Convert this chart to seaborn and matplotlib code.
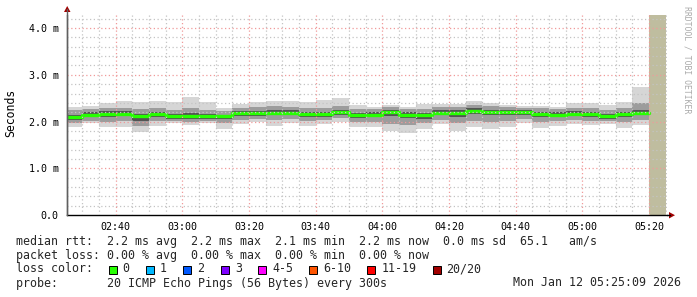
import numpy as np
import pandas as pd
import matplotlib
matplotlib.use("Agg")
import matplotlib.pyplot as plt
from matplotlib.patches import Polygon, Rectangle
from matplotlib.lines import Line2D
import seaborn as sns

# ---------------- data (ms) ----------------
median = [2.09, 2.15, 2.17, 2.17, 2.12, 2.16, 2.12, 2.12, 2.11, 2.11, 2.18, 2.18,
          2.19, 2.19, 2.16, 2.16, 2.20, 2.13, 2.15, 2.20, 2.15, 2.13, 2.19, 2.19,
          2.23, 2.20, 2.20, 2.20, 2.16, 2.15, 2.17, 2.16, 2.11, 2.16, 2.19]
outer_hi = [2.31, 2.33, 2.39, 2.44, 2.41, 2.44, 2.41, 2.53, 2.41, 2.28, 2.38, 2.41,
            2.44, 2.44, 2.41, 2.46, 2.51, 2.35, 2.31, 2.35, 2.31, 2.38, 2.38, 2.38,
            2.44, 2.39, 2.35, 2.33, 2.33, 2.31, 2.39, 2.39, 2.35, 2.42, 2.74]
outer_lo = [1.88, 1.96, 1.88, 1.88, 1.78, 1.91, 1.96, 1.93, 1.96, 1.85, 1.95, 1.98,
            1.91, 1.96, 1.91, 1.95, 1.98, 1.89, 1.89, 1.80, 1.76, 1.84, 1.95, 1.80,
            1.89, 1.84, 1.89, 1.96, 1.86, 1.91, 1.95, 1.92, 1.95, 1.87, 1.93]
mid_hi = [2.25, 2.27, 2.29, 2.30, 2.26, 2.30, 2.25, 2.28, 2.24, 2.22, 2.30, 2.31,
          2.33, 2.32, 2.29, 2.30, 2.34, 2.27, 2.26, 2.31, 2.27, 2.26, 2.31, 2.31,
          2.35, 2.33, 2.31, 2.30, 2.28, 2.26, 2.30, 2.29, 2.25, 2.30, 2.40]
mid_lo = [1.96, 2.02, 2.00, 2.01, 1.90, 2.02, 2.01, 2.00, 2.01, 1.97, 2.04, 2.05,
          2.03, 2.05, 2.01, 2.03, 2.07, 1.98, 2.00, 1.95, 1.92, 1.97, 2.04, 1.96,
          2.02, 1.99, 2.01, 2.05, 1.99, 2.02, 2.04, 2.02, 2.02, 1.99, 2.04]
inner_hi = [2.15, 2.20, 2.22, 2.23, 2.17, 2.21, 2.17, 2.18, 2.16, 2.15, 2.23, 2.23,
            2.25, 2.24, 2.21, 2.21, 2.25, 2.18, 2.20, 2.25, 2.20, 2.18, 2.24, 2.24,
            2.28, 2.25, 2.25, 2.25, 2.21, 2.20, 2.22, 2.21, 2.16, 2.21, 2.25]
inner_lo = [2.03, 2.09, 2.10, 2.11, 2.02, 2.10, 2.06, 2.06, 2.05, 2.05, 2.12, 2.12,
            2.13, 2.13, 2.10, 2.10, 2.14, 2.07, 2.09, 2.12, 2.07, 2.06, 2.13, 2.10,
            2.16, 2.13, 2.14, 2.14, 2.10, 2.09, 2.11, 2.10, 2.06, 2.09, 2.13]

bar_start = pd.date_range("2026-01-12 02:25:00", periods=len(median), freq="5min")
x_ticks = ["02:40", "03:00", "03:20", "03:40", "04:00", "04:20", "04:40", "05:00", "05:20"]
y_ticks = [0, 1, 2, 3, 4]
y_labels = ["0.0", "1.0 m", "2.0 m", "3.0 m", "4.0 m"]

loss_labels = ["0", "1", "2", "3", "4-5", "6-10", "11-19", "20/20"]
loss_colors = ["#26ff00", "#00b8ff", "#0059ff", "#7e00ff", "#ff00ff", "#ff5500", "#ff0000", "#a10000"]

line_rtt = "median rtt:  2.2 ms avg  2.2 ms max  2.1 ms min  2.2 ms now  0.0 ms sd  65.1   am/s"
line_loss = "packet loss: 0.00 % avg  0.00 % max  0.00 % min  0.00 % now"
line_probe = "probe:       20 ICMP Echo Pings (56 Bytes) every 300s"
stamp = "Mon Jan 12 05:25:09 2026"

# ---------------- style ----------------
sns.set_theme(style="white")
plt.rcParams["font.family"] = ["DejaVu Sans Mono"]

W, H = 697, 297
fig = plt.figure(figsize=(W / 100, H / 100), dpi=100)
fig.patch.set_facecolor("white")
ax = fig.add_axes([67 / W, (H - 215) / H, 600 / W, 200 / H])
ax.set_facecolor("white")

t0 = pd.Timestamp("2026-01-12 02:25:25")
t1 = pd.Timestamp("2026-01-12 05:25:25")
width = 5 / 1440.0

layers = [(outer_lo, outer_hi, "#d6d6d6"),
          (mid_lo, mid_hi, "#9c9c9c"),
          (inner_lo, inner_hi, "#535353")]
for lo, hi, c in layers:
    lo = np.array(lo); hi = np.array(hi)
    ax.bar(bar_start, hi - lo, bottom=lo, width=width, align="edge",
           color=c, linewidth=0, zorder=1)

# unknown (tan) region at the end
ax.axvspan(pd.Timestamp("2026-01-12 05:20"), pd.Timestamp("2026-01-12 05:25"),
           color="#bfbd9f", linewidth=0, zorder=1)

# median line
df = pd.DataFrame({"t": list(bar_start) + [bar_start[-1] + pd.Timedelta(minutes=5)],
                   "median": median + [median[-1]]})
sns.lineplot(data=df, x="t", y="median", drawstyle="steps-post", color="#26ff00",
             linewidth=2.4, ax=ax, estimator=None, zorder=2)

ax.set_xlim(t0, t1)
ax.set_ylim(0, 4.28)

# grid
minor_c = "#c4c4c4"
major_c = "#f09a9a"
dot = (0, (1, 2))
for v in np.arange(0.2, 4.25, 0.2):
    if abs(v - round(v)) < 1e-6:
        continue
    ax.axhline(v, color=minor_c, lw=0.9, ls=dot, zorder=3)
for v in y_ticks[1:]:
    ax.axhline(v, color=major_c, lw=0.9, ls=dot, zorder=3)
major_times = [pd.Timestamp("2026-01-12 " + s) for s in x_ticks]
for t in pd.date_range("2026-01-12 02:30", "2026-01-12 05:25", freq="5min"):
    if t in major_times:
        continue
    ax.axvline(t, color=minor_c, lw=0.9, ls=dot, zorder=3)
for t in major_times:
    ax.axvline(t, color=major_c, lw=0.9, ls=dot, zorder=3)

# axes / ticks
ax.set_xticks(major_times)
ax.set_xticklabels(x_ticks)
ax.set_yticks(y_ticks)
ax.set_yticklabels(y_labels)
ax.tick_params(axis="both", labelsize=7.2, length=2, width=0.7, color="#a06060",
               colors="#000000", pad=3, direction="out")
ax.tick_params(axis="y", pad=4)
ax.set_xlabel("")
ax.set_ylabel("")
for s in ["top", "right"]:
    ax.spines[s].set_visible(False)
ax.spines["left"].set_color("#606060")
ax.spines["left"].set_linewidth(1.0)
ax.spines["bottom"].set_color("#000000")
ax.spines["bottom"].set_linewidth(1.0)


def fx(px):
    return px / W


def fy(py):
    return 1 - py / H


# axis extensions and arrows
fig.add_artist(Line2D([fx(67), fx(67)], [fy(215), fy(9)], color="#606060", lw=1.0))
fig.add_artist(Line2D([fx(667), fx(670)], [fy(215), fy(215)], color="#000000", lw=1.0))
fig.add_artist(Polygon([[fx(64), fy(12)], [fx(70.5), fy(12)], [fx(67.2), fy(6)]],
                       closed=True, color="#a00000", lw=0))
fig.add_artist(Polygon([[fx(669), fy(212)], [fx(669), fy(218.5)], [fx(675), fy(215.2)]],
                       closed=True, color="#a00000", lw=0))

# y-axis title
fig.text(fx(11), fy(113), "Seconds", rotation=90, ha="center", va="center",
         fontsize=8.3, color="#000000")
# watermark
fig.text(fx(687), fy(6), "RRDTOOL / TOBI OETIKER", rotation=270, ha="center", va="top",
         fontsize=5.9, color="#aaaaaa")

# legend text
fs = 8.4
fig.text(fx(16), fy(241), line_rtt, ha="left", va="center", fontsize=fs)
fig.text(fx(16), fy(255), line_loss, ha="left", va="center", fontsize=fs)
fig.text(fx(16), fy(269), "loss color:", ha="left", va="center", fontsize=fs)
fig.text(fx(16), fy(283), line_probe, ha="left", va="center", fontsize=fs)
fig.text(fx(681), fy(283), stamp, ha="right", va="center", fontsize=fs)

box_x = [108.7, 146.1, 183.2, 221.2, 258.3, 309.2, 367.3, 432.5]
for bx, lab, col in zip(box_x, loss_labels, loss_colors):
    fig.add_artist(Rectangle((fx(bx), fy(273.5)), 8 / W, 8 / H, facecolor=col,
                             edgecolor="#000000", lw=0.7))
    fig.text(fx(bx + 14), fy(269), lab, ha="left", va="center", fontsize=fs)

fig.savefig("out.png", dpi=100, facecolor="white")
